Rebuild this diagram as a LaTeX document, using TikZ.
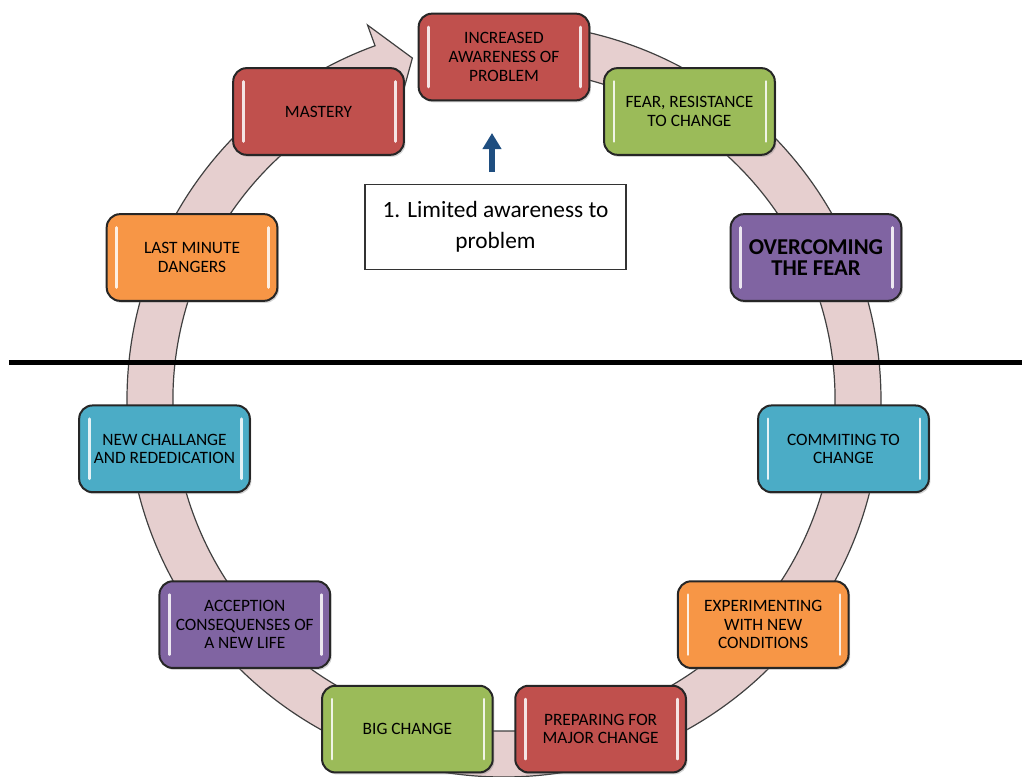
\documentclass[tikz,border=0pt]{standalone}
\usepackage{fontspec}
\setmainfont{Carlito}
\usetikzlibrary{arrows.meta,shadows}

\definecolor{stepred}{HTML}{C0504D}
\definecolor{stepgreen}{HTML}{9BBB59}
\definecolor{steppurple}{HTML}{8064A2}
\definecolor{stepblue}{HTML}{4BACC6}
\definecolor{steporange}{HTML}{F79646}
\definecolor{ringpink}{RGB}{230,207,207}
\definecolor{notearrow}{RGB}{31,78,128}

\tikzset{
  stage/.style={draw=black!85, line width=1.5pt, rounded corners=10pt,
    minimum width=128pt, minimum height=65pt, align=center,
    font=\fontsize{13}{14}\selectfont,
    drop shadow={shadow xshift=1.2pt, shadow yshift=-1.5pt, opacity=0.35},
    path picture={
      \draw[white, opacity=0.85, line width=2pt, line cap=round]
        ([shift={(7.5pt,-10pt)}]path picture bounding box.north west)
          -- ([shift={(7.5pt,10pt)}]path picture bounding box.south west)
        ([shift={(-6.5pt,-10pt)}]path picture bounding box.north east)
          -- ([shift={(-6.5pt,10pt)}]path picture bounding box.south east);
    }},
  ring/.style={fill=ringpink, draw=black!75, line width=0.9pt},
  divider/.style={line width=3.75pt},
  notebox/.style={draw=black!80, fill=white, line width=1.1pt,
    minimum width=196pt, minimum height=64pt, align=center,
    font=\fontsize{17.5}{23.5}\selectfont},
  uparrow/.style={notearrow, line width=4.5pt,
    -{Triangle[width=13.5pt,length=12pt]}}
}

\begin{document}
\begin{tikzpicture}[x=0.75pt, y=0.75pt]
  \useasboundingbox (-504,-376) rectangle (518,400);

  \draw[ring] (92:377) arc[start angle=92, end angle=-250, radius=377]
    -- (110:399) -- (105:354) -- (110:309) -- (110:331)
    arc[start angle=110, end angle=452, radius=331] -- cycle;

  \coordinate (l1) at (-495,38);
  \coordinate (l2) at (518,38);
	\draw[divider] (l1) -- (l2);

  \node[stage, fill=stepred] (s1) at (90:343) {INCREASED\\AWARENESS OF\\PROBLEM};
  \node[stage, fill=stepgreen] (s2) at (57.27:343) {FEAR, RESISTANCE\\TO CHANGE};
  \node[stage, fill=steppurple, font=\fontsize{17}{16}\selectfont\bfseries] (s3) at (24.55:343) {OVERCOMING\\THE FEAR};
  \node[stage, fill=stepblue] (s4) at (-8.18:343) {COMMITING TO\\CHANGE};
  \node[stage, fill=steporange] (s5) at (-40.91:343) {EXPERIMENTING\\WITH NEW\\CONDITIONS};
  \node[stage, fill=stepred] (s6) at (-73.64:343) {PREPARING FOR\\MAJOR CHANGE};
  \node[stage, fill=stepgreen] (s7) at (-106.36:343) {BIG CHANGE};
  \node[stage, fill=steppurple] (s8) at (-139.09:343) {ACCEPTION\\CONSEQUENSES OF\\A NEW LIFE};
  \node[stage, fill=stepblue] (s9) at (-171.82:343) {NEW CHALLANGE\\AND REDEDICATION};
  \node[stage, fill=steporange] (s10) at (155.45:343) {LAST MINUTE\\DANGERS};
  \node[stage, fill=stepred] (s11) at (122.73:343) {MASTERY};

  \node[notebox] (note) at (-8.5,173) {1. Limited awareness to\\problem};
  \coordinate (up1) at (-12,228);
  \coordinate (up2) at (-12,267);
	\draw[uparrow] (up1) -- (up2);

\end{tikzpicture}
\end{document}
